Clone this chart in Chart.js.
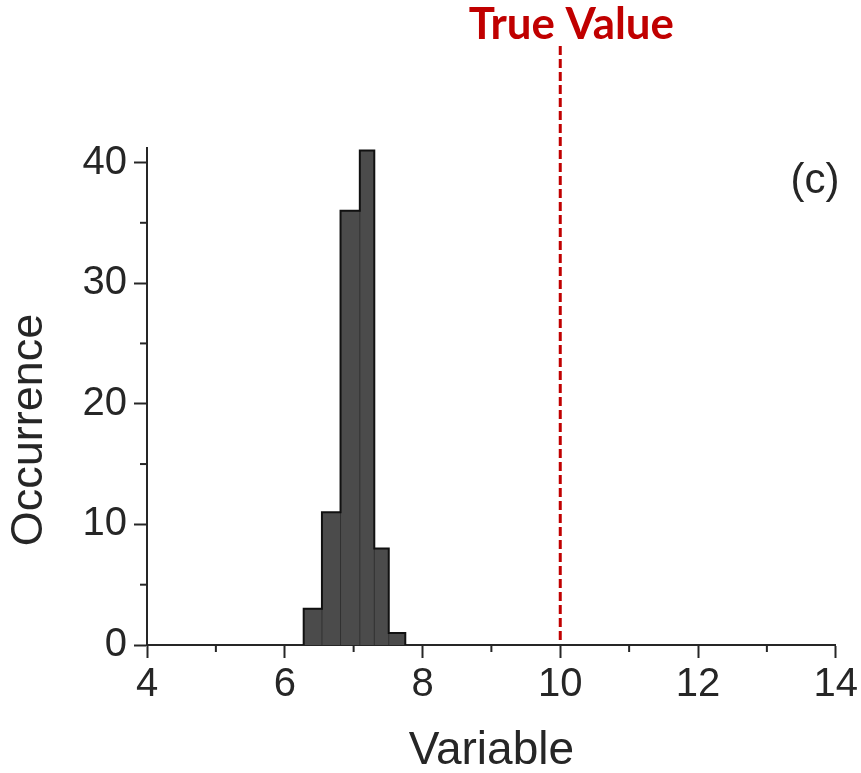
<!DOCTYPE html>
<html>
<head>
<meta charset="utf-8">
<script src="https://cdn.jsdelivr.net/npm/chart.js@4.4.1/dist/chart.umd.min.js"></script>
<style>
  html, body { margin: 0; padding: 0; background: #ffffff; }
  #wrap { width: 861px; height: 773px; }
</style>
</head>
<body>
<div id="wrap"><canvas id="c" width="861" height="773"></canvas></div>
<script>
// ---- data ----
const binEdges = [6.275, 6.54, 6.81, 7.09, 7.30, 7.51, 7.75];
const counts = [3, 11, 36, 41, 8, 1];
const trueValue = 10;
const xMajorTicks = [4, 6, 8, 10, 12, 14];
const xMinorTicks = [5, 7, 9, 11, 13];
const yMajorTicks = [0, 10, 20, 30, 40];
const yMinorTicks = [5, 15, 25, 35];
const xTitle = 'Variable';
const yTitle = 'Occurrence';
const trueLabel = 'True Value';
const panelLabel = '(c)';

// histogram outline points built from edges and counts
const histPoints = [{x: binEdges[0], y: 0}];
counts.forEach((c, i) => histPoints.push({x: binEdges[i], y: c}));
histPoints.push({x: binEdges[binEdges.length - 1], y: 0});

const ink = '#262626';
const red = '#c00000';
const sans = '"Liberation Sans", Arial, sans-serif';

const extras = {
  id: 'extras',
  afterDraw(chart) {
    const ctx = chart.ctx;
    const xs = chart.scales.x, ys = chart.scales.y;
    const ca = chart.chartArea;
    ctx.save();
    // internal bin dividers (faint)
    ctx.strokeStyle = 'rgba(0,0,0,0.35)';
    ctx.lineWidth = 1;
    for (let i = 1; i < counts.length; i++) {
      const px = xs.getPixelForValue(binEdges[i]);
      const h = Math.min(counts[i - 1], counts[i]);
      ctx.beginPath();
      ctx.moveTo(px, ys.getPixelForValue(0));
      ctx.lineTo(px, ys.getPixelForValue(h));
      ctx.stroke();
    }
    // minor ticks
    ctx.strokeStyle = ink;
    ctx.lineWidth = 2;
    xMinorTicks.forEach(v => {
      const px = xs.getPixelForValue(v);
      ctx.beginPath(); ctx.moveTo(px, ca.bottom); ctx.lineTo(px, ca.bottom + 7); ctx.stroke();
    });
    yMinorTicks.forEach(v => {
      const py = ys.getPixelForValue(v);
      ctx.beginPath(); ctx.moveTo(ca.left, py); ctx.lineTo(ca.left - 7, py); ctx.stroke();
    });
    // true value dashed line
    const tx = xs.getPixelForValue(trueValue);
    ctx.strokeStyle = red;
    ctx.lineWidth = 3;
    ctx.setLineDash([9, 4]);
    ctx.beginPath(); ctx.moveTo(tx, 46); ctx.lineTo(tx, ca.bottom - 1); ctx.stroke();
    ctx.setLineDash([]);
    // True Value label
    ctx.fillStyle = red;
    ctx.textAlign = 'center';
    ctx.textBaseline = 'alphabetic';
    ctx.font = 'bold 40px Lato, "Open Sans", sans-serif';
    const w = ctx.measureText(trueLabel).width;
    const fs = 40 * 205 / w;
    ctx.font = 'bold ' + fs.toFixed(1) + 'px Lato, "Open Sans", sans-serif';
    ctx.fillText(trueLabel, tx + 11, 39);
    // y title
    ctx.fillStyle = ink;
    ctx.font = '45px ' + sans;
    ctx.translate(30, 430);
    ctx.rotate(-Math.PI / 2);
    ctx.textBaseline = 'middle';
    ctx.fillText(yTitle, 0, 0);
    ctx.setTransform(1, 0, 0, 1, 0, 0);
    // panel label
    ctx.font = '42px ' + sans;
    ctx.textAlign = 'center';
    ctx.textBaseline = 'middle';
    ctx.fillText(panelLabel, 815, 181);
    ctx.restore();
  }
};

new Chart(document.getElementById('c'), {
  type: 'line',
  data: {
    datasets: [{
      data: histPoints,
      stepped: 'before',
      fill: 'origin',
      backgroundColor: '#4b4b4b',
      borderColor: '#111111',
      borderWidth: 2,
      pointRadius: 0,
      tension: 0
    }]
  },
  options: {
    responsive: false,
    animation: false,
    layout: { padding: { left: 0, right: 24, top: 148, bottom: 0 } },
    plugins: { legend: { display: false }, tooltip: { enabled: false } },
    scales: {
      x: {
        type: 'linear',
        min: xMajorTicks[0],
        max: xMajorTicks[xMajorTicks.length - 1],
        afterBuildTicks: s => { s.ticks = xMajorTicks.map(v => ({value: v})); },
        afterFit: s => { s.height = 128; },
        border: { display: true, color: ink, width: 2 },
        grid: { drawOnChartArea: false, drawTicks: true, tickLength: 13, tickColor: ink, tickWidth: 2 },
        ticks: { color: ink, font: { family: sans, size: 40 }, padding: 3, maxRotation: 0 },
        title: { display: true, text: xTitle, color: ink, font: { family: sans, size: 46 }, padding: { bottom: -6, top: 0 } }
      },
      y: {
        type: 'linear',
        min: 0,
        max: 41.2,
        afterBuildTicks: s => { s.ticks = yMajorTicks.map(v => ({value: v})); },
        afterFit: s => { s.width = 147; },
        border: { display: true, color: ink, width: 2 },
        grid: { drawOnChartArea: false, drawTicks: true, tickLength: 13, tickColor: ink, tickWidth: 2 },
        ticks: { color: ink, font: { family: sans, size: 40 }, padding: 7 }
      }
    }
  },
  plugins: [extras]
});
</script>
</body>
</html>
